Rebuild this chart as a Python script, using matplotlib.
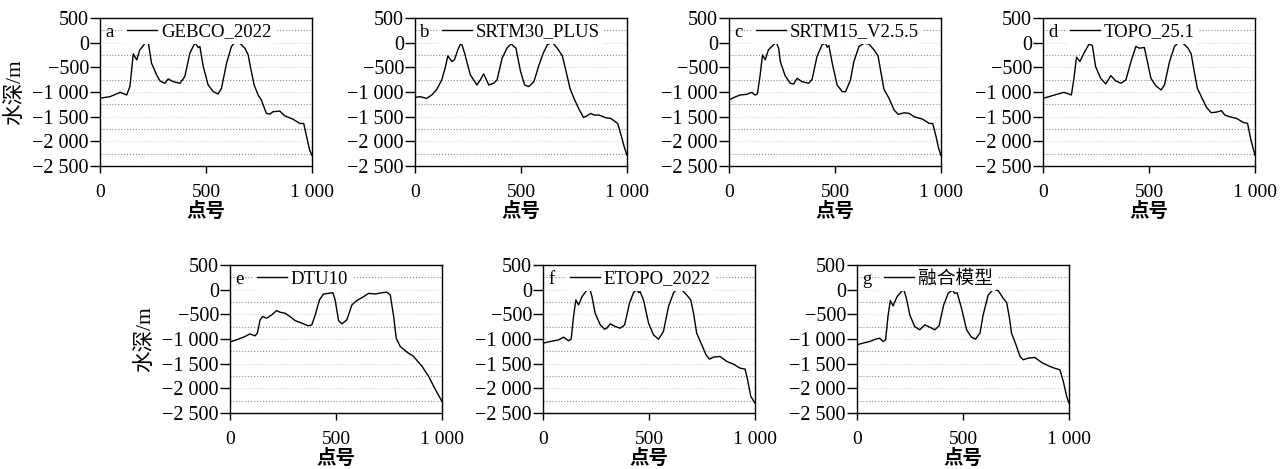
import numpy as np
import matplotlib
matplotlib.use('Agg')
import matplotlib.pyplot as plt
from matplotlib.ticker import FuncFormatter

SERIF = ['Liberation Serif', 'Noto Sans CJK SC']
CJK = ['Noto Sans CJK SC', 'Liberation Serif']

# ---- profile data (point number, depth in m) ----
gebco_x = [0, 47, 95, 126, 141, 157, 173, 188, 204, 220, 228, 243, 267, 283, 306, 322, 345, 377,
           400, 424, 447, 455, 463, 471, 487, 510, 534, 557, 573, 597, 620, 636, 659, 683, 699,
           706, 727, 746, 761, 785, 801, 816, 848, 871, 910, 942, 961, 973, 989, 1000]
gebco_y = [-1125, -1095, -1007, -1060, -890, -226, -350, -145, -60, 30, -5, -416, -654, -776,
           -823, -735, -790, -823, -688, -213, -10, -43, -100, -77, -484, -857, -993, -1040,
           -925, -416, -77, 3, -10, -111, -247, -416, -857, -1061, -1163, -1434, -1448, -1400,
           -1387, -1482, -1550, -1638, -1638, -1875, -2180, -2283]

srtm30_x = [0, 24, 55, 79, 103, 126, 142, 155, 174, 186, 202, 218, 234, 261, 292, 308, 324, 348,
            371, 387, 411, 434, 453, 466, 476, 498, 517, 537, 561, 585, 605, 624, 648, 671, 695,
            711, 731, 750, 774, 795, 809, 829, 845, 869, 900, 924, 956, 972, 987, 1000]
srtm30_y = [-1108, -1095, -1129, -1061, -946, -756, -518, -267, -382, -348, -145, 4, -213, -654,
            -857, -756, -633, -857, -823, -756, -314, -111, -23, -77, -111, -586, -857, -891,
            -790, -450, -213, -43, 4, -111, -267, -552, -925, -1129, -1353, -1516, -1489,
            -1434, -1468, -1468, -1523, -1536, -1638, -1875, -2113, -2283]

srtm15_x = [0, 21, 52, 84, 107, 123, 134, 147, 158, 171, 186, 210, 223, 234, 242, 265, 289, 305,
            321, 344, 376, 392, 415, 439, 455, 463, 471, 487, 510, 534, 550, 573, 589, 613, 637,
            660, 684, 703, 716, 731, 755, 779, 798, 826, 850, 874, 913, 945, 961, 977, 989, 1000]
srtm15_y = [-1163, -1115, -1061, -1047, -1007, -1061, -1040, -654, -247, -348, -145, -43, 4,
            -111, -382, -674, -823, -837, -722, -790, -823, -742, -280, -43, -10, -91, -57,
            -416, -857, -993, -993, -756, -382, -77, -10, -30, -145, -267, -586, -946, -1129,
            -1366, -1454, -1421, -1434, -1502, -1550, -1638, -1638, -1909, -2147, -2283]

topo_x = [0, 27, 66, 98, 122, 134, 146, 158, 174, 193, 217, 233, 248, 272, 296, 320, 343, 367,
          391, 415, 438, 454, 478, 494, 509, 533, 557, 573, 597, 620, 636, 660, 684, 699, 712,
          728, 747, 771, 794, 818, 842, 858, 881, 913, 945, 965, 981, 1000]
topo_y = [-1129, -1095, -1047, -1007, -1040, -1061, -722, -294, -382, -213, -30, -57, -484,
          -722, -837, -667, -776, -823, -756, -382, -77, -111, -98, -416, -722, -878, -959,
          -857, -382, -77, -10, -10, -111, -226, -552, -925, -1095, -1312, -1421, -1407,
          -1380, -1468, -1502, -1536, -1617, -1638, -1977, -2283]

dtu_x = [0, 39, 71, 94, 118, 129, 142, 154, 173, 197, 220, 236, 260, 283, 307, 339, 370, 386,
         402, 422, 441, 465, 485, 496, 512, 528, 551, 575, 598, 630, 654, 685, 717, 740, 756,
         772, 784, 803, 835, 866, 906, 937, 969, 1000]
dtu_y = [-1060, -1003, -949, -896, -936, -882, -612, -545, -579, -511, -424, -457, -478, -545,
         -626, -680, -734, -713, -511, -208, -88, -75, -61, -208, -626, -693, -612, -309, -221,
         -142, -75, -88, -61, -53, -108, -545, -983, -1152, -1266, -1354, -1556, -1758, -2028,
         -2264]

etopo_x = [0, 35, 74, 97, 121, 133, 144, 155, 168, 184, 204, 220, 231, 246, 270, 290, 301, 317,
           341, 364, 385, 408, 427, 443, 451, 458, 474, 498, 521, 545, 568, 592, 616, 631, 655,
           678, 697, 710, 725, 749, 769, 785, 804, 835, 867, 898, 929, 953, 965, 980, 1000]
etopo_y = [-1084, -1051, -1017, -963, -1037, -1003, -545, -208, -309, -142, -27, 27, -142, -478,
           -713, -801, -781, -693, -747, -781, -713, -275, -61, 7, -61, -40, -208, -680, -916,
           -1003, -848, -343, -61, 7, -7, -108, -208, -478, -882, -1118, -1320, -1408, -1367,
           -1354, -1455, -1509, -1590, -1610, -1826, -2163, -2298]

fused_x = [0, 28, 60, 88, 107, 123, 135, 146, 157, 170, 189, 209, 220, 233, 249, 272, 296, 320,
           343, 367, 387, 409, 430, 450, 461, 472, 493, 517, 540, 559, 580, 595, 619, 643, 666,
           690, 706, 718, 729, 750, 769, 784, 808, 839, 871, 902, 934, 957, 973, 989, 1000]
fused_y = [-1118, -1084, -1051, -1003, -983, -1051, -1017, -545, -221, -329, -142, -40, 14,
           -175, -511, -747, -814, -713, -760, -814, -734, -309, -75, -7, -75, -61, -376, -814,
           -963, -1003, -882, -511, -108, 7, -20, -175, -262, -545, -882, -1118, -1354, -1421,
           -1387, -1374, -1475, -1542, -1596, -1623, -1859, -2163, -2298]

letters = ['a', 'b', 'c', 'd', 'e', 'f', 'g']
names = ['GEBCO_2022', 'SRTM30_PLUS', 'SRTM15_V2.5.5', 'TOPO_25.1', 'DTU10', 'ETOPO_2022', '融合模型']
xs = [gebco_x, srtm30_x, srtm15_x, topo_x, dtu_x, etopo_x, fused_x]
ys = [gebco_y, srtm30_y, srtm15_y, topo_y, dtu_y, etopo_y, fused_y]

y_ticks = [500, 0, -500, -1000, -1500, -2000, -2500]
x_ticks = [0, 500, 1000]


def fmt(v, pos=None):
    return f'{v:,.0f}'.replace(',', ' ').replace('-', '\u2212')


W, H = 1288, 469
fig = plt.figure(figsize=(W / 100, H / 100), dpi=100)

# axes boxes in pixels: left, top
boxes = [(100, 18), (415, 18), (729, 18), (1043, 18),
         (230, 265), (543, 265), (857, 265)]
aw, ah = 212, 148

for i, (left, top) in enumerate(boxes):
    ax = fig.add_axes([left / W, 1 - (top + ah) / H, aw / W, ah / H])
    ax.plot(xs[i], ys[i], color='black', lw=1.0, label=names[i])
    ax.set_xlim(0, 1000)
    ax.set_ylim(-2500, 500)
    ax.set_xticks(x_ticks)
    ax.set_yticks(y_ticks)
    ax.set_yticks(np.arange(-2250, 500, 500), minor=True)
    ax.xaxis.set_major_formatter(FuncFormatter(fmt))
    ax.yaxis.set_major_formatter(FuncFormatter(fmt))
    ax.grid(which='major', axis='y', color='#d8d8d8', ls=':', lw=0.8)
    ax.grid(which='minor', axis='y', color='#8a8a8a', ls=':', lw=0.8)
    ax.tick_params(which='minor', length=0)
    ax.tick_params(axis='y', which='major', direction='out', length=7, width=1, pad=1,
                   labelsize=14.5)
    ax.tick_params(axis='x', which='major', direction='out', length=5, width=1, pad=8,
                   labelsize=14)
    for lab in ax.get_xticklabels() + ax.get_yticklabels():
        lab.set_family(SERIF)
    for sp in ax.spines.values():
        sp.set_linewidth(1.0)
        sp.set_color('black')

    ax.text(0.024, 0.905, letters[i], transform=ax.transAxes, ha='left', va='center',
            fontsize=13.5, family=SERIF)
    leg = ax.legend(loc='center left', bbox_to_anchor=(0.11, 0.905), borderaxespad=0,
                    frameon=True, facecolor='white', edgecolor='none', framealpha=1,
                    handlelength=1.6, handletextpad=0.2, borderpad=0.2,
                    prop={'family': SERIF, 'size': 13.5})
    leg.get_frame().set_linewidth(0)

    ax.set_xlabel('点号', family=CJK, fontsize=14, fontweight='bold')
    ax.xaxis.set_label_coords(0.5, -0.245)
    if i in (0, 4):
        ax.set_ylabel('水深/m', family=SERIF, fontsize=15.5)
        ax.yaxis.set_label_coords(-0.355, 0.5)

fig.savefig('out.png', dpi=100)
